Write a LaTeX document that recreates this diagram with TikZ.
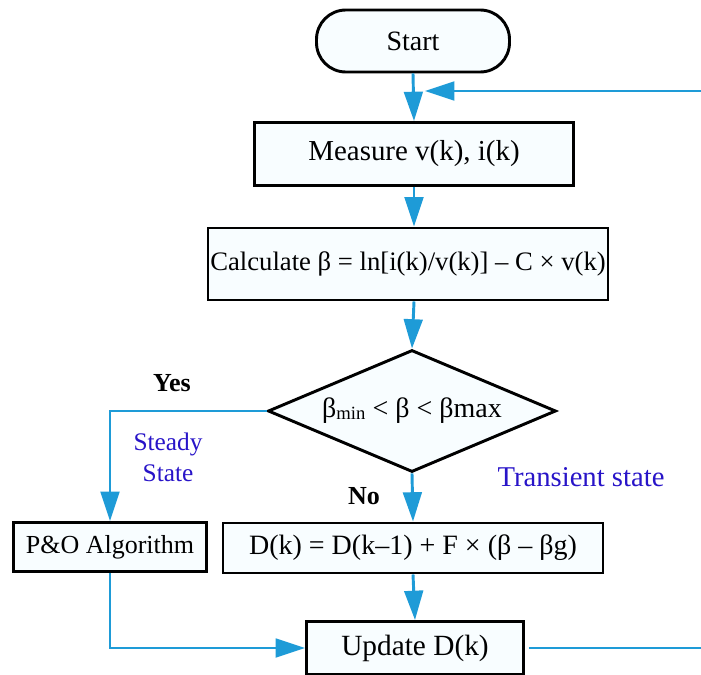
\documentclass[tikz,border=0pt]{standalone}
\usepackage{fontspec}
\setmainfont{Liberation Serif}
\usetikzlibrary{arrows.meta,shapes.geometric,positioning}
\definecolor{flowblue}{RGB}{30,155,215}
\definecolor{txtblue}{RGB}{40,20,200}
\definecolor{boxfill}{RGB}{248,253,255}
\tikzset{
  box/.style={draw=black,line width=2.2pt,fill=boxfill,inner sep=0pt,font=\fontsize{21}{25}\selectfont},
  flow/.style={draw=flowblue,line width=2.2pt},
  arr/.style={flow,-{Triangle[length=22pt,width=14pt]}},
  lbl/.style={font=\fontsize{19.5}{23}\selectfont\bfseries},
  bluelbl/.style={text=txtblue,font=\fontsize{19}{23}\selectfont,align=center},
}
\begin{document}
\begin{tikzpicture}[x=0.75pt,y=-0.75pt]
\useasboundingbox (0,0) rectangle (701,675);
% nodes
\node[box,rounded corners=22pt,minimum width=193*0.75pt,minimum height=62*0.75pt] (start) at (413,41) {Start};
\node[box,minimum width=319*0.75pt,minimum height=63*0.75pt,font=\fontsize{21.7}{26}\selectfont] (meas) at (414,154) {Measure v(k), i(k)};
\node[box,minimum width=400*0.75pt,minimum height=72*0.75pt,font=\fontsize{20}{24}\selectfont] (calc) at (408,264) {Calculate β = ln[i(k)/v(k)] – C × v(k)};
\node[box,diamond,aspect=2.4,minimum width=288*0.75pt,minimum height=122*0.75pt] (dec) at (412,411) {β\raisebox{-1.5pt}{\fontsize{14}{16}\selectfont min} < β < βmax};
\node[box,minimum width=193*0.75pt,minimum height=49*0.75pt,font=\fontsize{19.5}{23}\selectfont] (po) at (110,547) {P\&O Algorithm};
\node[box,minimum width=380*0.75pt,minimum height=50*0.75pt] (dk) at (413,548) {D(k) = D(k–1) + F × (β – βg)};
\node[box,minimum width=217*0.75pt,minimum height=53*0.75pt,font=\fontsize{22}{26}\selectfont] (upd) at (415,648) {Update D(k)};
% coordinates
\coordinate (loopin) at (425,91);
\coordinate (loopR) at (705,91);
\coordinate (updR) at (705,648);
\coordinate (yesC) at (110,411);
\coordinate (poC) at (110,648);
% labels
\node[lbl] (yes) at (172,383) {Yes};
\node[lbl] (no) at (364,496) {No};
\node[bluelbl] (steady) at (168,457) {Steady\\State};
\node[bluelbl,font=\fontsize{21.5}{25}\selectfont] (trans) at (581,477) {Transient state};
% connectors
\draw[arr] (start.south) -- (meas.north);
\draw[flow] (upd.east) ++(4,0) -- (updR) -- (loopR);
\draw[arr] (loopR) -- (loopin);
\draw[arr] (meas.south) -- (meas.south |- calc.north);
\draw[arr] (meas.south |- calc.south) -- (dec.north);
\draw[arr] (dec.south) -- (dk.north);
\draw[arr] (dec.west) -- (yesC) -- (po.north);
\draw[arr] (dk.south) -- (upd.north);
\draw[arr] (po.south) -- (poC) -- (upd.west);
\end{tikzpicture}
\end{document}
